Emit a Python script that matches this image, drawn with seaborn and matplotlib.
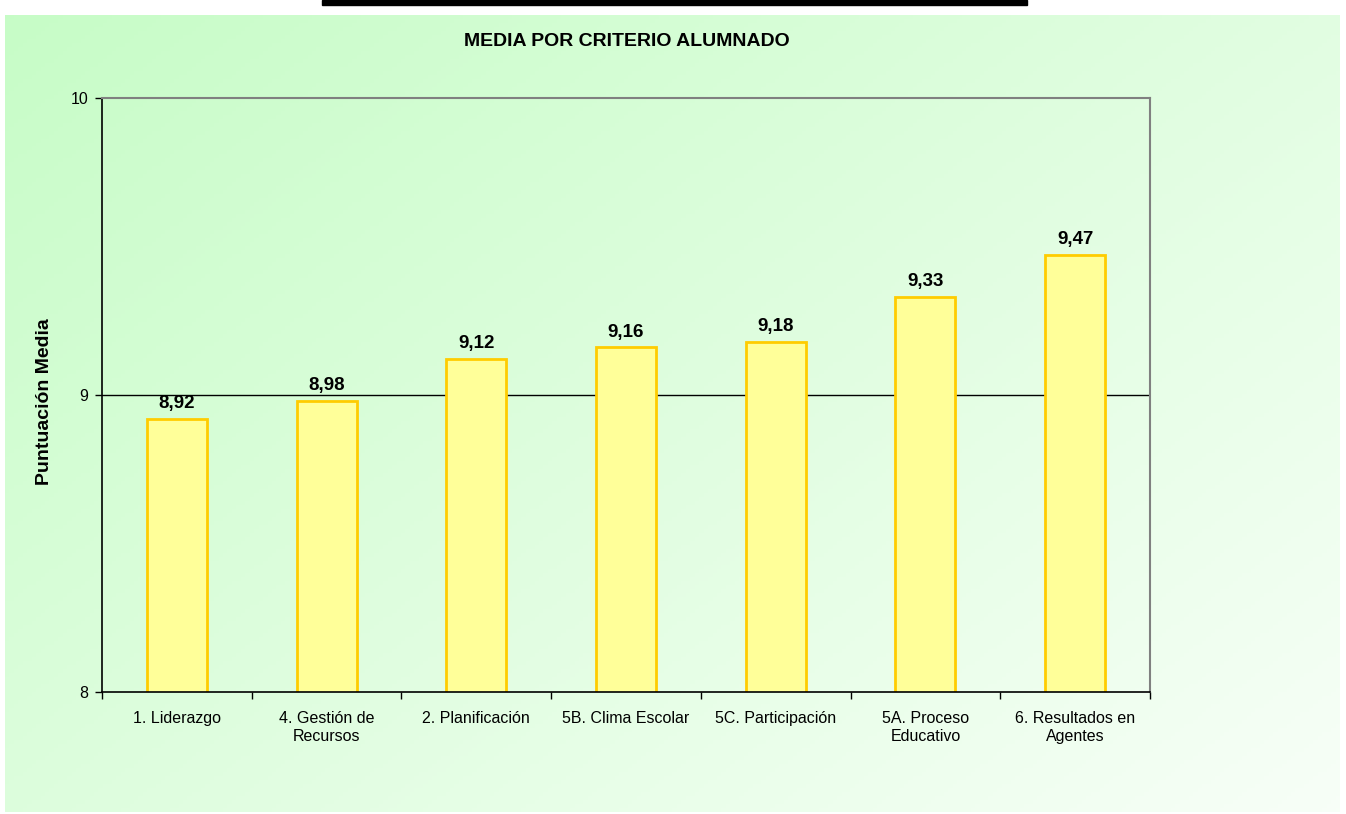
import numpy as np
import pandas as pd
import seaborn as sns
import matplotlib.pyplot as plt
from matplotlib.patches import Rectangle

criterios = ["1. Liderazgo", "4. Gestión de\nRecursos", "2. Planificación", "5B. Clima Escolar",
             "5C. Participación", "5A. Proceso\nEducativo", "6. Resultados en\nAgentes"]
medias = [8.92, 8.98, 9.12, 9.16, 9.18, 9.33, 9.47]
etiquetas = ["8,92", "8,98", "9,12", "9,16", "9,18", "9,33", "9,47"]

df = pd.DataFrame({"criterio": criterios, "media": medias})

sns.set_style("white")
plt.rcParams['font.family'] = ['Liberation Sans', 'DejaVu Sans']
plt.rcParams['text.color'] = 'black'
plt.rcParams['axes.labelcolor'] = 'black'
plt.rcParams['xtick.color'] = 'black'
plt.rcParams['ytick.color'] = 'black'

W, H = 1346, 814
fig = plt.figure(figsize=(W / 100, H / 100), dpi=100)
fig.patch.set_facecolor("white")

# green gradient panel behind the chart
bg = fig.add_axes([5 / W, 1 - 812 / H, 1335 / W, 797 / H], zorder=-5)
gx, gy = np.meshgrid(np.linspace(0, 1, 300), np.linspace(0, 1, 200))
t = np.clip(0.55 * gx + 0.45 * gy, 0, 1)
c0 = np.array([0.78, 0.99, 0.78])
c1 = np.array([0.97, 1.0, 0.97])
img = c0[None, None, :] * (1 - t[..., None]) + c1[None, None, :] * t[..., None]
bg.imshow(img, aspect="auto", extent=(0, 1, 0, 1), origin="upper")
bg.axis("off")

# cut-off underline at the very top
fig.patches.append(Rectangle((322 / W, 1 - 5 / H), 705 / W, 5 / H,
                             transform=fig.transFigure, color="black", zorder=5))

ax = fig.add_axes([102 / W, 1 - 692 / H, 1048 / W, 594 / H])
ax.patch.set_alpha(0)

sns.barplot(data=df, x="criterio", y="media", ax=ax, width=0.4,
            color="#ffff99", edgecolor="#ffcc00", linewidth=2, saturation=1)

ax.set_ylim(8, 10)
ax.set_xlim(-0.5, len(criterios) - 0.5)
ax.set_yticks([8, 9, 10])
ax.set_yticklabels(["8", "9", "10"], fontsize=11.5)
ax.axhline(9, color="black", linewidth=1, zorder=0)

ax.set_xticks(np.arange(-0.5, len(criterios), 1.0))
ax.set_xticklabels([])
ax.set_xticks(np.arange(len(criterios)), minor=True)
ax.set_xticklabels(criterios, minor=True, fontsize=11.5, linespacing=1.25)
ax.tick_params(axis="x", which="minor", length=0, pad=14)
ax.tick_params(axis="x", which="major", length=5, width=1, direction="out", bottom=True)
ax.tick_params(axis="y", length=5, width=1, direction="out", left=True, pad=5)

for s in ["left", "bottom"]:
    ax.spines[s].set_color("black")
    ax.spines[s].set_linewidth(1.2)
for s in ["top", "right"]:
    ax.spines[s].set_color("#808080")
    ax.spines[s].set_linewidth(1.5)

for i, (v, lab) in enumerate(zip(medias, etiquetas)):
    ax.annotate(lab, (i, v), xytext=(0, 5), textcoords="offset points",
                ha="center", va="bottom", fontsize=13.5, fontweight="bold")

ax.set_xlabel("")
ax.set_ylabel("")
fig.text(45 / W, 1 - 402 / H, "Puntuación Media", rotation=90, ha="center", va="center",
         fontsize=14, fontweight="bold")
fig.text(627 / W, 1 - 42 / H, "MEDIA POR CRITERIO ALUMNADO", ha="center", va="center",
         fontsize=14, fontweight="bold")

fig.savefig("out.png", dpi=100)
